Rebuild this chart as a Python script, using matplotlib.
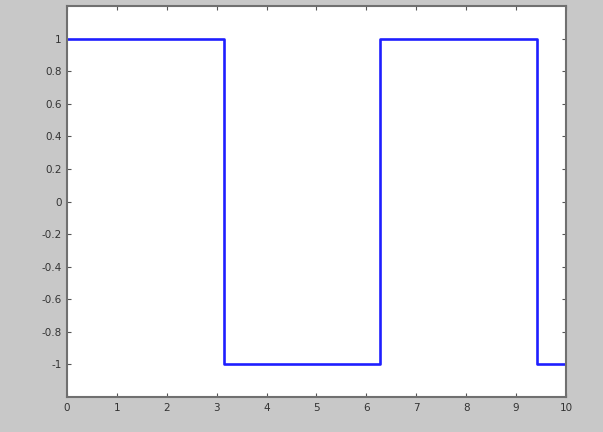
import matplotlib
matplotlib.use("Agg")
import matplotlib.pyplot as plt

# square wave breakpoints (sign of sin(t))
t_values = [0.0, 3.1416, 3.1416, 6.2832, 6.2832, 9.4248, 9.4248, 10.0]
wave_values = [1, 1, -1, -1, 1, 1, -1, -1]

x_ticks = [0, 1, 2, 3, 4, 5, 6, 7, 8, 9, 10]
y_ticks = [-1, -0.8, -0.6, -0.4, -0.2, 0, 0.2, 0.4, 0.6, 0.8, 1]
y_tick_labels = ["-1", "-0.8", "-0.6", "-0.4", "-0.2", "0",
                 "0.2", "0.4", "0.6", "0.8", "1"]

fig = plt.figure(figsize=(6.03, 4.32), dpi=100, facecolor="#c8c8c8")
ax = fig.add_axes([0.111, 0.081, 0.8275, 0.905])

ax.plot(t_values, wave_values, color="#1f1fff", linewidth=1.9)

ax.set_xlim(0, 10)
ax.set_ylim(-1.2, 1.2)
ax.set_xticks(x_ticks)
ax.set_yticks(y_ticks)
ax.set_yticklabels(y_tick_labels)

ax.tick_params(direction="in", top=True, right=True, length=3,
               width=0.8, colors="#555555", labelcolor="#333333",
               labelsize=7.5, pad=4)

for spine in ax.spines.values():
    spine.set_color("#707070")
    spine.set_linewidth(1.5)

fig.savefig("out.png", dpi=100, facecolor=fig.get_facecolor())
